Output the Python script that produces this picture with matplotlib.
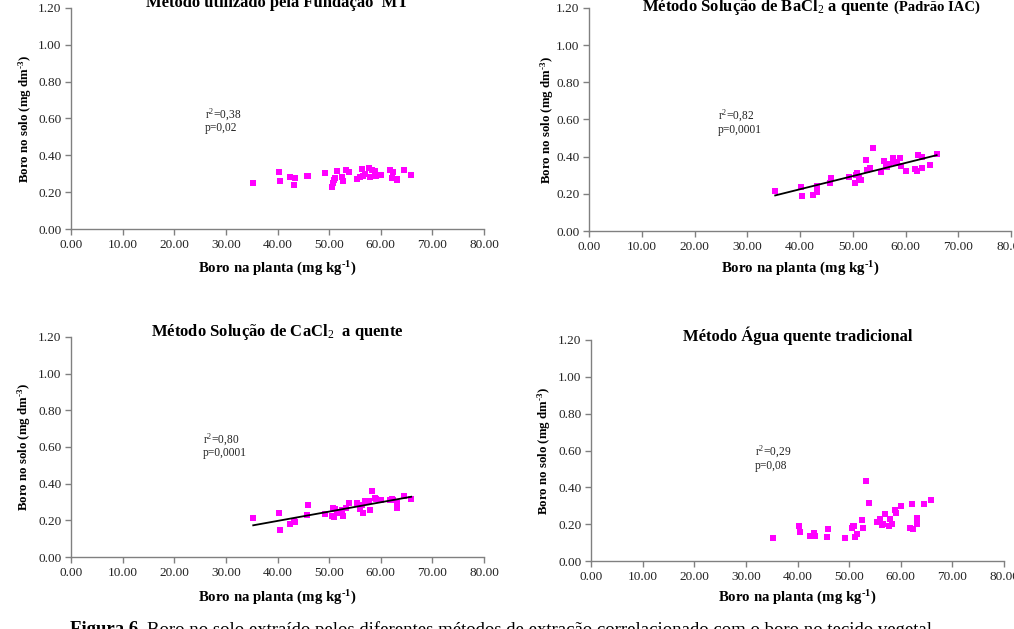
import numpy as np
import matplotlib
matplotlib.use("Agg")
import matplotlib.pyplot as plt
from matplotlib.ticker import MultipleLocator, FormatStrFormatter

plt.rcParams['font.family'] = ['Liberation Serif', 'DejaVu Serif']
plt.rcParams['mathtext.fontset'] = 'custom'
plt.rcParams['mathtext.rm'] = 'Liberation Serif'
plt.rcParams['mathtext.bf'] = 'Liberation Serif:bold'
plt.rcParams['mathtext.it'] = 'Liberation Serif:italic'

# Boro na planta (mg kg-1) - common x values
boro_planta = [35.3, 40.2, 40.4, 42.4, 43.2, 43.3, 45.7, 45.9, 49.2, 50.5, 50.7, 50.9,
               51.1, 51.6, 52.5, 52.7, 53.2, 53.9, 55.4, 56.0, 56.3, 56.5, 56.9, 57.7,
               58.0, 58.4, 58.9, 59.1, 60.0, 61.8, 62.1, 62.4, 63.1, 63.2, 64.6, 65.9]

solo_fundacao = [0.248, 0.310, 0.260, 0.284, 0.237, 0.275, 0.286, 0.288, 0.306, 0.230, 0.250, 0.265,
                 0.275, 0.317, 0.280, 0.260, 0.318, 0.310, 0.270, 0.285, 0.326, 0.288, 0.300, 0.330,
                 0.285, 0.322, 0.315, 0.288, 0.295, 0.322, 0.275, 0.312, 0.273, 0.268, 0.320, 0.294]

solo_bacl2 = [0.213, 0.236, 0.187, 0.192, 0.242, 0.210, 0.260, 0.283, 0.289, 0.256, 0.300, 0.310,
              0.283, 0.274, 0.382, 0.326, 0.341, 0.448, 0.317, 0.376, 0.353, 0.346, 0.358, 0.393,
              0.373, 0.364, 0.395, 0.350, 0.323, 0.332, 0.321, 0.407, 0.337, 0.400, 0.357, 0.416]

solo_cacl2 = [0.214, 0.239, 0.145, 0.178, 0.194, 0.189, 0.227, 0.283, 0.232, 0.225, 0.270, 0.219,
              0.263, 0.241, 0.257, 0.223, 0.270, 0.297, 0.297, 0.261, 0.285, 0.239, 0.303, 0.305,
              0.254, 0.361, 0.324, 0.314, 0.310, 0.312, 0.315, 0.312, 0.295, 0.270, 0.335, 0.315]

solo_agua = [0.127, 0.190, 0.160, 0.136, 0.150, 0.136, 0.132, 0.172, 0.123, 0.180, 0.188, 0.192,
             0.130, 0.148, 0.222, 0.179, 0.433, 0.317, 0.210, 0.228, 0.194, 0.200, 0.253, 0.188,
             0.230, 0.200, 0.275, 0.260, 0.297, 0.181, 0.311, 0.174, 0.203, 0.232, 0.310, 0.331]

titles = ["Método utilizado pela Fundação  MT",
          "Método Solução de BaCl$_2$ a quente",
          "Método Solução de CaCl$_2$  a quente",
          "Método Água quente tradicional"]
stats = [("0,38", "0,02"), ("0,82", "0,0001"), ("0,80", "0,0001"), ("0,29", "0,08")]
show_trend = [False, True, True, False]
series = [solo_fundacao, solo_bacl2, solo_cacl2, solo_agua]

W, H = 1014, 629
fig = plt.figure(figsize=(W / 100, H / 100), dpi=100)

# pixel boxes: left, right, top, bottom
boxes = [(71, 484, 8, 229), (589, 1011, 8, 231), (71, 484, 337, 557), (591, 1004, 340, 561)]
title_off = [5, 1, 5, 4]
ylab_center = [27, 549, 26, 546]
xlab_top = [260, 260, 589, 589]
stat_pos = [(26, 0.62, 0.55), (24.5, 0.62, 0.545), (25.6, 0.64, 0.567), (31.8, 0.59, 0.516)]

gray = '#808080'
x = np.array(boro_planta)
for i in range(4):
    l, r, t, b = boxes[i]
    ax = fig.add_axes([l / W, 1 - b / H, (r - l) / W, (b - t) / H])
    y = np.array(series[i])
    ax.scatter(x, y, marker='s', s=14, color='#FF00FF', linewidths=0, zorder=3)
    if show_trend[i]:
        k, c = np.polyfit(x, y, 1)
        xx = np.array([x.min(), x.max()])
        ax.plot(xx, k * xx + c, color='black', lw=1.3, zorder=4)
    ax.set_xlim(0, 80)
    ax.set_ylim(0, 1.2)
    ax.xaxis.set_major_locator(MultipleLocator(10))
    ax.yaxis.set_major_locator(MultipleLocator(0.2))
    ax.xaxis.set_major_formatter(FormatStrFormatter('%.2f'))
    ax.yaxis.set_major_formatter(FormatStrFormatter('%.2f'))
    for s in ['top', 'right']:
        ax.spines[s].set_visible(False)
    for s in ['left', 'bottom']:
        ax.spines[s].set_color(gray)
        ax.spines[s].set_linewidth(1.0)
    ax.tick_params(direction='out', length=4, width=1, color=gray, labelsize=9.5,
                   labelcolor='#222222', pad=3)
    ax.set_xlabel('Boro na planta (mg kg$^{\\mathbf{\u2010 1}}$)', fontsize=10.7, fontweight='bold')
    ax.set_ylabel('Boro no solo (mg dm$^{\\mathbf{\u2010 3}}$)', fontsize=9.3, fontweight='bold')
    ax.xaxis.set_label_coords(0.5, -(xlab_top[i] - b) / (b - t))
    ax.yaxis.set_label_coords(-(l - ylab_center[i] - 7) / (r - l), 0.5)
    tt = ax.text(0.5 if i != 1 else 0.42, 1 + title_off[i] / (b - t), titles[i],
                 transform=ax.transAxes, ha='center', va='center',
                 fontsize=12, fontweight='bold')
    if i == 1:
        ax.annotate('(Padrão IAC)', xy=(1, 0.5), xycoords=tt, xytext=(3, 0),
                    textcoords='offset points', ha='left', va='center',
                    fontsize=10.5, fontweight='bold')
    sx, sy1, sy2 = stat_pos[i]
    ax.text(sx, sy1, 'r$^{2}$=' + stats[i][0], fontsize=8.3, va='center', ha='left', color='#222222')
    ax.text(sx, sy2, 'p=' + stats[i][1], fontsize=8.3, va='center', ha='left', color='#222222')

cap = fig.text(70 / W, 1 - 621 / H, 'Figura 6.', fontsize=13.5, fontweight='bold', va='top', ha='left')
fig.text(0, 0,
         'Boro no solo extraído pelos diferentes métodos de extração correlacionado com o boro no tecido vegetal.',
         fontsize=13.5, va='top', ha='left', transform=fig.transFigure)
fig.texts[-1].set_position((147 / W, 1 - 621 / H))

fig.savefig('out.png', dpi=100)
